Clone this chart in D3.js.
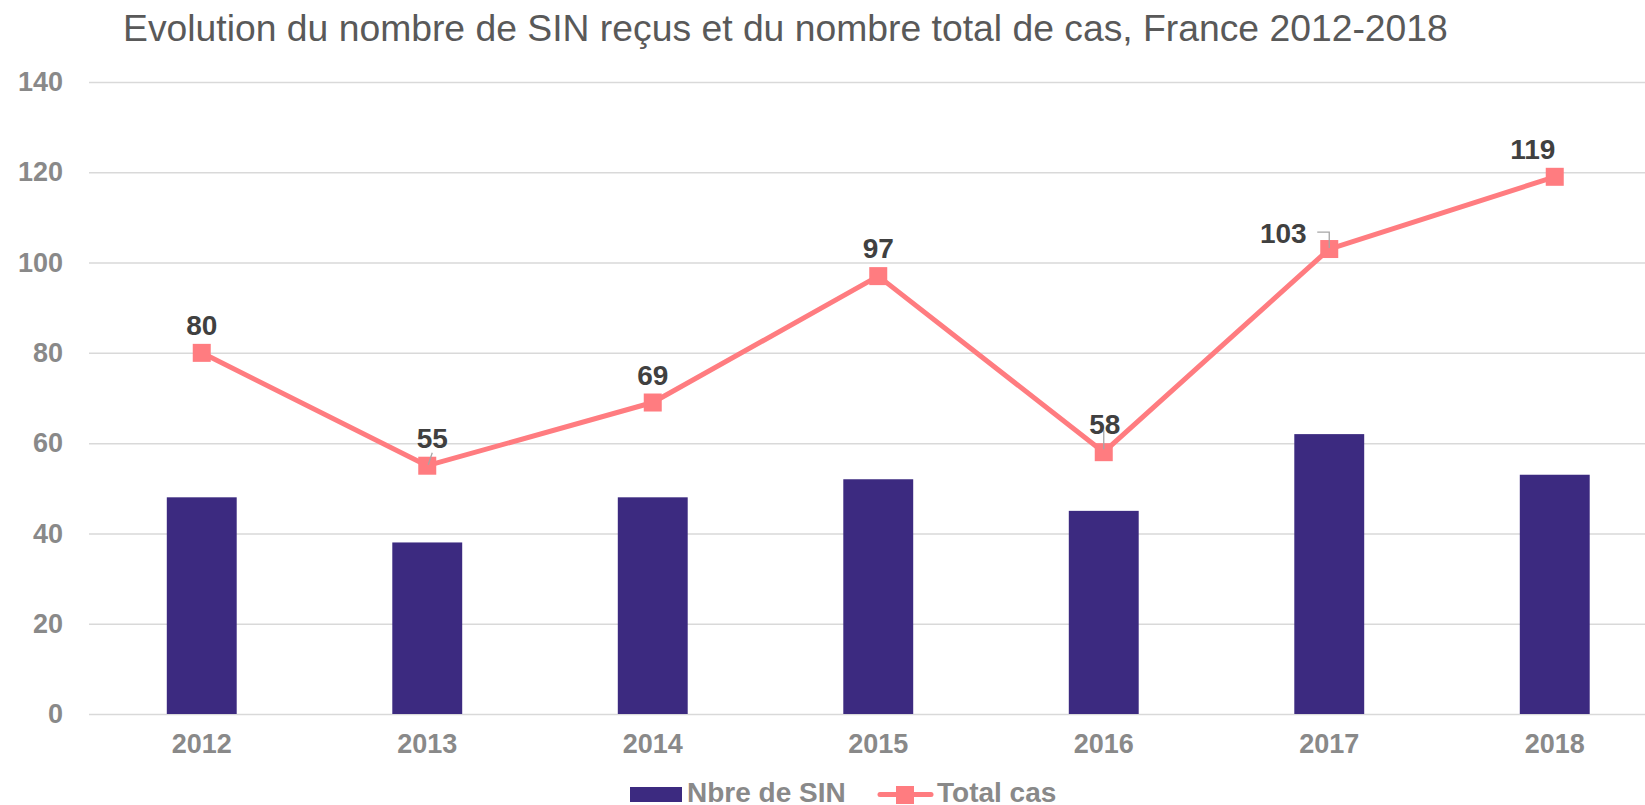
<!DOCTYPE html>
<html>
<head>
<meta charset="utf-8">
<script src="https://cdn.jsdelivr.net/npm/d3@7"></script>
<style>
  body { margin: 0; background: #fff; }
  svg text { font-family: "Liberation Sans", Arial, sans-serif; }
</style>
</head>
<body>
<svg id="chart" width="1645" height="805"></svg>
<script>
// data
const years = ["2012", "2013", "2014", "2015", "2016", "2017", "2018"];
const sinCounts = [48, 38, 48, 52, 45, 62, 53];
const totalCases = [80, 55, 69, 97, 58, 103, 119];
const yTicks = [0, 20, 40, 60, 80, 100, 120, 140];

const titleText = "Evolution du nombre de SIN reçus et du nombre total de cas, France 2012-2018";
const seriesNames = ["Nbre de SIN", "Total cas"];

// label nudges for the few labels that were moved off their point
const labelNudge = {
  "2013": {dx: 5, dy: 0, leader: "slant"},
  "2016": {dx: 1, dy: 0, leader: "vertical"},
  "2017": {dx: -46, dy: 12, leader: "elbow"},
  "2018": {dx: -22, dy: 0}
};

const barColor = "#3C2A80",
    lineColor = "#FF7C80",
    gridColor = "#D9D9D9",
    axisText = "#898989",
    labelText = "#404040";

let margin = {top: 82, left: 89, bottom: 91},
    svgW = 1645, svgH = 805,
    step = 225.5;

let svg = d3.select("#chart");

let x = d3.scaleBand()
    .domain(years)
    .range([margin.left, margin.left + step * years.length])
    .paddingInner(0).paddingOuter(0);

let y = d3.scaleLinear()
    .domain([0, 140])
    .range([svgH - margin.bottom, margin.top]);

let cx = d => x(d) + x.bandwidth() / 2;
let barW = x.bandwidth() * 0.31;

// title
svg.append("text")
    .attr("x", 123)
    .attr("y", 41)
    .style("font-size", "37.3px")
    .style("fill", "#595959")
    .text(titleText);

// grid
let yAxis = d3.axisLeft(y)
    .tickValues(yTicks)
    .tickSize(-(svgW - margin.left))
    .tickPadding(26)
    .tickFormat(d3.format("d"));

let gy = svg.append("g")
    .attr("transform", "translate(" + margin.left + ",0)")
    .call(yAxis);
gy.select(".domain").remove();
gy.selectAll("line")
    .style("stroke", gridColor)
    .style("stroke-width", 1.5);
gy.selectAll("text")
    .style("font-size", "27px")
    .style("font-weight", "bold")
    .style("fill", axisText);

// x axis labels
let xAxis = d3.axisBottom(x).tickSize(0).tickPadding(20);
let gx = svg.append("g")
    .attr("transform", "translate(0," + y(0) + ")")
    .call(xAxis);
gx.select(".domain").remove();
gx.selectAll("text")
    .style("font-size", "27px")
    .style("font-weight", "bold")
    .style("fill", axisText);

// bars
svg.selectAll(".bar")
    .data(years)
    .enter().append("rect")
    .attr("class", "bar")
    .attr("x", d => cx(d) - barW / 2)
    .attr("width", barW)
    .attr("y", (d, i) => y(sinCounts[i]))
    .attr("height", (d, i) => y(0) - y(sinCounts[i]))
    .style("fill", barColor);

// line
let line = d3.line()
    .x(d => cx(d))
    .y((d, i) => y(totalCases[i]));

svg.append("path")
    .datum(years)
    .attr("d", line)
    .style("fill", "none")
    .style("stroke", lineColor)
    .style("stroke-width", 5)
    .style("stroke-linejoin", "round");

svg.selectAll(".marker")
    .data(years)
    .enter().append("rect")
    .attr("class", "marker")
    .attr("x", d => cx(d) - 9)
    .attr("y", (d, i) => y(totalCases[i]) - 9)
    .attr("width", 18)
    .attr("height", 18)
    .style("fill", lineColor);

// leader lines
years.forEach(function (d, i) {
    let n = labelNudge[d];
    if (!n || !n.leader) return;
    let px = cx(d), py = y(totalCases[i]);
    let path;
    if (n.leader === "slant") path = "M" + (px + 5) + "," + (py - 13) + "L" + (px + 1) + "," + (py - 1);
    if (n.leader === "vertical") path = "M" + px + "," + (py - 22) + "L" + px + "," + (py - 3);
    if (n.leader === "elbow") path = "M" + (px - 12) + "," + (py - 17) + "H" + px + "V" + (py - 1);
    svg.append("path")
        .attr("d", path)
        .style("fill", "none")
        .style("stroke", "#A6A6A6")
        .style("stroke-width", 1.3);
});

// data labels
svg.selectAll(".dlabel")
    .data(years)
    .enter().append("text")
    .attr("class", "dlabel")
    .attr("x", d => cx(d) + (labelNudge[d] ? labelNudge[d].dx : 0))
    .attr("y", (d, i) => y(totalCases[i]) - 18 + (labelNudge[d] ? labelNudge[d].dy : 0))
    .attr("text-anchor", "middle")
    .style("font-size", "28px")
    .style("font-weight", "bold")
    .style("fill", labelText)
    .text((d, i) => totalCases[i]);

// legend
let lg = svg.append("g");
lg.append("rect")
    .attr("x", 630).attr("y", 787)
    .attr("width", 52).attr("height", 15)
    .style("fill", barColor);
lg.append("text")
    .attr("x", 687).attr("y", 802)
    .style("font-size", "28px").style("font-weight", "bold")
    .style("fill", axisText)
    .text(seriesNames[0]);
lg.append("line")
    .attr("x1", 880).attr("x2", 931)
    .attr("y1", 794.5).attr("y2", 794.5)
    .style("stroke", lineColor)
    .style("stroke-width", 5)
    .style("stroke-linecap", "round");
lg.append("rect")
    .attr("x", 896).attr("y", 786)
    .attr("width", 18).attr("height", 18)
    .style("fill", lineColor);
lg.append("text")
    .attr("x", 937).attr("y", 802)
    .style("font-size", "28px").style("font-weight", "bold")
    .style("fill", axisText)
    .text(seriesNames[1]);
</script>
</body>
</html>
